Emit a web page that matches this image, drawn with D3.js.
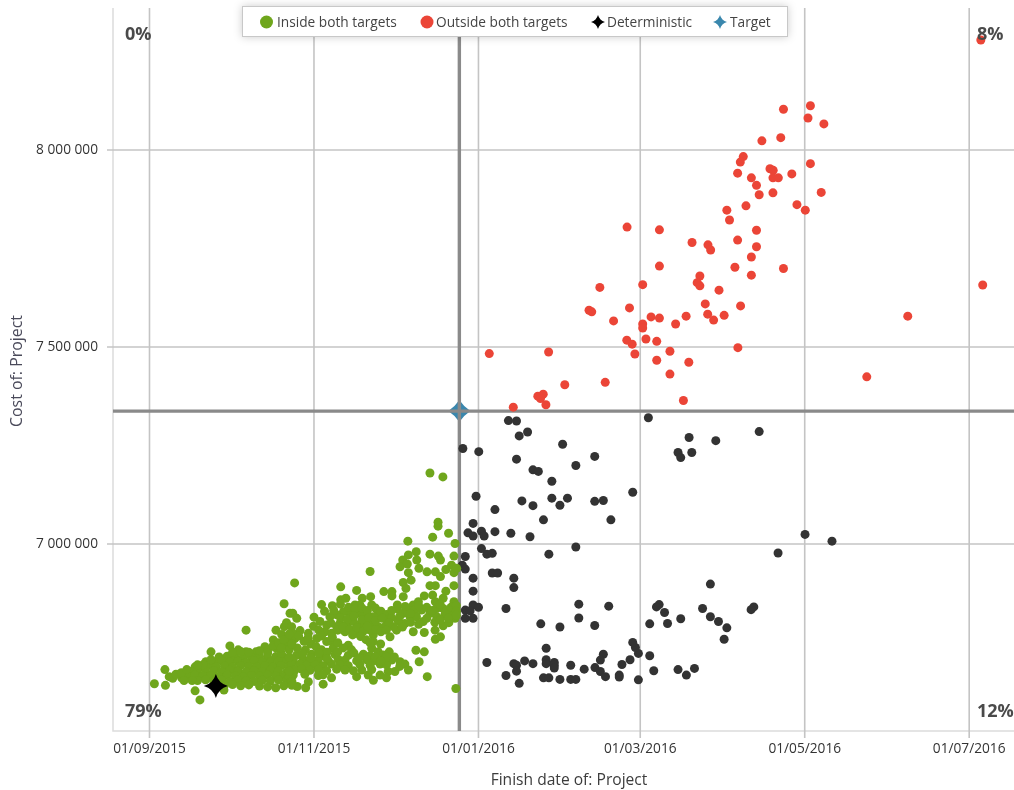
<!DOCTYPE html>
<html>
<head>
<meta charset="utf-8">
<script src="https://cdn.jsdelivr.net/npm/d3@7"></script>
<style>
  html, body { margin: 0; padding: 0; background: #fff; overflow: hidden; }
  svg { display: block; font-family: "Open Sans", "Noto Sans", sans-serif; filter: blur(0.35px); }
</style>
</head>
<body>
<script>
// all points are [days after 01/09/2015, cost in thousands]
var insidePoints = [
  [2.0,6644],[6.1,6640],[5.9,6680],[7.5,6662],[8.8,6658],[12.1,6659],[17.1,6626],[18.9,6603],[23.0,6725],[30.0,6740],
  [36.0,6780],[50.1,6847],[27.8,6628],[15.2,6670],[17.1,6687],[21.1,6700],[47.1,6780],[49.2,6769],[50.2,6789],[51.0,6799],
  [46.1,6755],[43.0,6738],[33.1,6730],[36.0,6725],[39.7,6725],[52.3,6823],
  [26,6712],[29,6714],[32,6710],[35,6713],[38,6711],[41,6714],[44,6710],[47,6713],[50,6711],
  [24,6700],[27,6702],[30,6699],[33,6701],[36,6698],[39,6702],[42,6700],[45,6698],[48,6701],[51,6703],
  [19,6688],[22,6690],[25,6687],[28,6689],[31,6686],[34,6690],[37,6688],[40,6686],[43,6689],[46,6687],[49,6690],[52,6688],
  [16,6676],[18,6678],[21,6675],[24,6677],[27,6674],[30,6678],[33,6676],[36,6674],[39,6677],[42,6675],[45,6678],[48,6676],[51,6674],
  [14,6664],[17,6666],[20,6663],[23,6665],[26,6662],[29,6666],[32,6664],[35,6662],[38,6665],[41,6663],[44,6666],[47,6664],[50,6662],
  [18,6652],[21,6654],[24,6651],[27,6653],[30,6650],[33,6654],[36,6652],[39,6650],[42,6653],[45,6651],[48,6654],[51,6652],
  [28,6640],[31,6642],[34,6639],[37,6641],[41,6638],[44,6636],[47,6634],[50,6639],
  [47,6735],[50,6740],[52,6750],[49,6722],[52,6730],
  [104.2,7179],[109.0,7169],[107.2,7044],
  [107.2,7054],[111.1,7026],[105.2,7016],[96.0,7006],[113.5,7000],[99.1,6979],[96.2,6971],[94.1,6958],[93.1,6941],[95.8,6948],
  [99.3,6958],[100.1,6937],[96.2,6926],[97.2,6907],[104.2,6973],[107.3,6968],[108.1,6958],[113.1,6968],[103.1,6928],[106.2,6928],
  [108.1,6916],[110.1,6934],[112.2,6945],[113.1,6926],[114.1,6937],[82.0,6929],[54.0,6900],[71.1,6890],[77.0,6881],[94.3,6901],
  [95.3,6886],[94.3,6865],[87.1,6878],[90.1,6878],[90.1,6867],[104.2,6893],[106.2,6893],[113.1,6893],[110.1,6879],[105.2,6869],
  [106.2,6852],[102.1,6867],[109.1,6861],[113.1,6852],[71.1,6857],[73.0,6861],[79.1,6861],[82.2,6865],[64.0,6845],[65.1,6828],
  [76.4,6844],[78.2,6844],[82.6,6844],[92.1,6844],[92.1,6834],[98.0,6844],[99.9,6852],[96.2,6831],[98.6,6831],[101.1,6831],
  [96.8,6814],[99.2,6814],[101.7,6802],[104.2,6823],[106.7,6835],[109.1,6835],[111.6,6831],[106.7,6814],[109.7,6818],[112.8,6823],
  [113.5,6810],[109.1,6791],[111.2,6799],[106.1,6780],[102.1,6774],[106.2,6757],[108.1,6763],[98.0,6776],[94.9,6797],[92.5,6802],
  [91.8,6780],[89.4,6763],[94.3,6823],[90.6,6789],[88.1,6806],[87.5,6789],[85.0,6823],[83.2,6814],[80.7,6827],[78.9,6819],
  [77.0,6831],[74.5,6823],[72.1,6827],[69.6,6819],[67.1,6814],[61.2,6813],[70.8,6797],[73.3,6793],[75.8,6802],[78.2,6793],
  [80.7,6802],[83.2,6793],[85.0,6789],[72.7,6776],[77.0,6772],[83.2,6768],[82.0,6780],[65.9,6793],[63.4,6802],[65.3,6776],
  [67.7,6772],[69.6,6789],[62.2,6759],[59.1,6772],[56.0,6779],[53.3,6823],[54.8,6810],[52.9,6789],[54.1,6759],[65.9,6751],
  [67.7,6751],[68.3,6734],[73.9,6742],[75.1,6730],[83.2,6751],[85.9,6745],[82.6,6734],[85.0,6725],[89.1,6725],[99.0,6729],
  [102.1,6725],[100.2,6700],[103.2,6662],[113.8,6632],[93.1,6700],[94.9,6694],[96.2,6679],[91.2,6675],[88.7,6675],[88.1,6659],
  [85.7,6666],[83.2,6653],[81.3,6666],[78.9,6679],[77.0,6662],[67.7,6659],[64.6,6643],[59.1,6649],[58.1,6634],[55.0,6637],
  [54.8,6717],[60.3,6719],[64.6,6715],[69.0,6718],[73.9,6716],[79.5,6719],[82.0,6715],[86.9,6717],
  [53.5,6704],[57.2,6706],[59.7,6703],[62.8,6705],[66.5,6702],[70.2,6706],[72.7,6704],[77.0,6702],[80.7,6705],[83.8,6703],[87.5,6706],[90.0,6704],
  [52.9,6692],[56.0,6694],[58.5,6691],[61.5,6693],[64.6,6690],[67.7,6694],[70.8,6692],[73.9,6690],[78.2,6693],[82.0,6691],[85.7,6694],[88.1,6692],
  [54.1,6679],[56.6,6681],[59.7,6678],[62.8,6680],[65.9,6677],[69.6,6681],[72.7,6679],[75.8,6677],[82.6,6680],
  [53.5,6666],[57.8,6668],[62.8,6665],[64.6,6667],
  [68,6842],[71,6846],[74,6838],[76.5,6834],[79,6836],[81,6830],[84,6836],[86,6828],[88,6820],[90,6812],
  [68.5,6830],[71,6812],[73.5,6808],[76,6816],[79,6806],[81.5,6812],[84,6804],[86.5,6810],[89,6798],
  [67.5,6798],[70,6780],[72,6788],[74.5,6782],[77,6786],[79.5,6778],[81,6790],[84,6782],[86,6776],[88,6780],[75.5,6768],[78.5,6764],[80.5,6756],[82,6748],
  [53,6775],[55.5,6765],[57.5,6752],[60,6745],[62,6738],[64,6730],[66,6724],[58,6730],[55,6735],[53,6745],[60,6710],[63,6722],[66,6708],[57,6720],
  [61,6790],[63,6780],[64,6765],[59,6760],[68,6762],[70,6748],[72,6735],[70,6725],[76,6722],[78,6710],[84,6712],[88,6712],[91,6712],[93,6688],[86,6702],
  [90,6830],[93,6815],[95,6840],[97,6822],[100,6842],[103,6838],[105,6830],[108,6845],[110,6825],[112,6838],[114,6842],[114,6828],[114,6818],[103,6810],
  [106,6800],[108,6806],[100,6795],[97,6800],[94,6788],[111,6810],
  [31,6724],[34,6726],[37,6724],[41,6728],[44,6726],[46,6740],[48,6748],[50,6756],[52,6770],[49,6735],[44,6722],[52,6712],[52,6662],[52,6676],[53,6650],[53,6640],
  [23,6705],[20,6692],[18,6692],[10,6668],[12,6672],[14,6680],[16,6652],[13,6652]
];
var outsidePoints = [
  [308.5,8278],[309.2,7656],[281.4,7577],[266.2,7423],
  [177.3,7803],[189.3,7796],[189.3,7704],[183.1,7657],[167.2,7650],[206.3,7608],[219.4,7603],[178.2,7598],[163.2,7592],[164.2,7588],
  [172.3,7565],[207.2,7582],[209.4,7567],[213.3,7579],[199.2,7577],[195.3,7557],[186.2,7575],[189.3,7572],[183.1,7557],[183.1,7547],
  [177.2,7516],[179.2,7506],[184.3,7519],[188.3,7513],[180.2,7481],[193.2,7488],[218.4,7497],[126.2,7482],[148.2,7486],[188.3,7465],
  [200.2,7460],[193.2,7430],[154.2,7403],[169.2,7409],[198.2,7363],[144.2,7374],[146.2,7379],[145.2,7368],[147.2,7352],[135.1,7346],
  [235.3,8102],[245.3,8111],[244.4,8080],[250.3,8065],[234.3,8030],[227.3,8022],[220.4,7982],[219.3,7968],[218.3,7940],[223.4,7928],
  [225.3,7909],[226.3,7885],[230.3,7951],[231.5,7947],[231.4,7928],[233.4,7928],[238.4,7938],[245.3,7964],[231.4,7890],[249.3,7891],
  [240.3,7860],[243.4,7846],[221.4,7857],[214.3,7846],[215.3,7821],[225.3,7795],[218.3,7770],[225.3,7753],[223.4,7727],[201.4,7764],
  [207.3,7758],[208.3,7745],[217.3,7701],[223.4,7681],[235.3,7698],[204.3,7679],[203.3,7662],[204.3,7654],[211.4,7643]
];
var otherPoints = [
  [133.3,7312],[136.3,7311],[137.3,7273],[140.4,7283],[153.4,7252],[116.4,7241],[122.3,7233],[136.3,7214],[165.3,7221],[158.3,7198],
  [142.4,7187],[144.4,7183],[149.4,7158],[121.3,7120],[138.3,7108],[142.4,7096],[149.4,7115],[152.4,7097],[155.2,7115],[165.3,7107],
  [168.5,7109],[179.4,7130],[128.3,7086],[146.3,7060],[171.3,7060],[120.2,7051],[118.3,7027],[120.2,7019],[123.3,7031],[124.3,7019],
  [128.3,7030],[134.2,7026],[141.3,7017],[123.3,6987],[125.3,6973],[127.3,6975],[148.3,6973],[158.3,6991],[117.3,6967],[116.2,6945],
  [117.3,6935],[127.3,6925],[129.3,6925],[120.2,6912],[135.3,6912],[135.3,6888],[120.2,6879],[159.4,6846],[170.5,6841],[120.2,6844],
  [122.2,6838],[132.4,6835],[117.3,6831],[119.1,6829],[117.3,6810],[120.2,6810],[159.4,6811],[145.3,6796],[152.4,6788],[165.3,6792],
  [185.7,6796],[147.3,6734],[125.3,6698],[135.3,6695],[136.3,6691],[139.3,6702],[142.4,6695],[147.3,6705],[147.3,6695],[150.3,6698],
  [150.3,6691],[150.3,6684],[156.4,6691],[161.4,6681],[168.5,6719],[167.4,6704],[165.4,6685],[167.4,6675],[169.3,6662],[174.4,6666],
  [174.4,6661],[175.4,6693],[178.4,6705],[181.5,6721],[180.4,6736],[179.4,6749],[185.7,6715],[132.4,6665],[136.3,6676],[137.3,6645],
  [146.3,6659],[148.3,6659],[152.4,6655],[156.4,6655],[158.3,6655],[181.5,6654],
  [185.2,7319],[200.3,7269],[210.2,7261],[226.3,7284],[196.2,7231],[197.2,7218],[201.3,7231],[243.3,7023],[253.3,7006],[233.3,6976],
  [208.2,6897],[205.3,6835],[208.2,6814],[211.2,6802],[214.3,6786],[213.3,6757],[189.2,6845],[188.2,6839],[191.2,6825],[192.3,6797],
  [197.2,6809],[224.3,6839],[223.3,6832],[187.2,6677],[196.2,6680],[199.3,6666],[202.3,6683]
];
var deterministicPoint = [24.8,6638];
var targetPoint = [115.1,7336];

var yTicks = [7000, 7500, 8000];
var xTickDates = ["2015-09-01","2015-11-01","2016-01-01","2016-03-01","2016-05-01","2016-07-01"];
var cornerLabels = ["0%", "8%", "79%", "12%"];
var legendLabels = ["Inside both targets", "Outside both targets", "Deterministic", "Target"];

var width = 1014, height = 790;
var left = 113, top_ = 8, right = 1014, bottom = 731;

var green = "#6fa61c", red = "#eb4537", dark = "#333333", blue = "#3a87ad";
var gridColour = "#c4c4c4";

var svg = d3.select("body").append("svg")
  .attr("width", width)
  .attr("height", height);

var startDate = new Date(Date.UTC(2015, 8, 1));
function toDate(days) { return new Date(startDate.getTime() + days*86400000); }

// 01/09/2015 sits at 149, 01/07/2016 at 969
var x = d3.scaleUtc()
  .domain([toDate(-13.35), toDate(320.8)])
  .range([left, right]);

// 8 000 000 sits at 149.5, 7 000 000 at 543.5
var y = d3.scaleLinear()
  .domain([6524.1, 8359.1])
  .range([bottom, top_]);

// frame
svg.append("path")
  .attr("d", "M" + left + "," + top_ + "V" + bottom + "H" + right)
  .attr("fill", "none")
  .attr("stroke", "#dcdcdc")
  .attr("stroke-width", 1.5);

// x axis + grid
var xAxis = d3.axisBottom(x)
  .tickValues(xTickDates.map(function(d){ return new Date(d + "T00:00:00Z"); }))
  .tickFormat(d3.utcFormat("%d/%m/%Y"))
  .tickSize(bottom - top_ + 7)
  .tickPadding(5);

var gx = svg.append("g").attr("transform", "translate(0," + top_ + ")").call(xAxis);
gx.select(".domain").remove();
gx.selectAll(".tick line").attr("stroke", gridColour).attr("stroke-width", 1.6);
gx.selectAll(".tick text").attr("fill", "#333").attr("font-size", 13.7).attr("font-family", "Open Sans");

// y axis + grid
var yAxis = d3.axisLeft(y)
  .tickValues(yTicks)
  .tickFormat(function(d){ return d3.format(",")(d*1000).replace(/,/g, " "); })
  .tickSize(right - left + 6)
  .tickPadding(9);

var gy = svg.append("g").attr("transform", "translate(" + right + ",0)").call(yAxis);
gy.select(".domain").remove();
gy.selectAll(".tick line").attr("stroke", gridColour).attr("stroke-width", 1.6);
gy.selectAll(".tick text").attr("fill", "#333").attr("font-size", 13.7).attr("font-family", "Open Sans");

// axis titles
svg.append("text")
  .attr("x", 569).attr("y", 785)
  .attr("text-anchor", "middle")
  .attr("fill", "#3c3c3c")
  .attr("font-size", 15.6)
  .text("Finish date of: Project");

svg.append("text")
  .attr("transform", "translate(22,371) rotate(-90)")
  .attr("text-anchor", "middle")
  .attr("fill", "#4a4a5a")
  .attr("font-size", 15.9)
  .text("Cost of: Project");

// four pointed star, same shape in chart and legend
function star(r, fat) {
  var k = r*(fat || 0.22);
  return "M0," + (-r) + "Q" + k + "," + (-k) + " " + r + ",0Q" + k + "," + k + " 0," + r +
         "Q" + (-k) + "," + k + " " + (-r) + ",0Q" + (-k) + "," + (-k) + " 0," + (-r) + "Z";
}

// target star goes under its lines
svg.append("path")
  .attr("d", star(11, 0.4))
  .attr("transform", "translate(" + x(toDate(targetPoint[0])) + "," + y(targetPoint[1]) + ")")
  .attr("fill", blue);

// target lines
svg.append("line")
  .attr("x1", x(toDate(targetPoint[0]))).attr("x2", x(toDate(targetPoint[0])))
  .attr("y1", top_).attr("y2", bottom)
  .attr("stroke", "#8a8a8a").attr("stroke-width", 3.4);
svg.append("line")
  .attr("x1", left).attr("x2", right)
  .attr("y1", y(targetPoint[1])).attr("y2", y(targetPoint[1]))
  .attr("stroke", "#8a8a8a").attr("stroke-width", 3.4);

function drawDots(data, colour) {
  svg.append("g").selectAll("circle")
    .data(data)
    .enter()
    .append("circle")
    .attr("cx", function(d){ return x(toDate(d[0])); })
    .attr("cy", function(d){ return y(d[1]); })
    .attr("r", 4.5)
    .attr("fill", colour);
}
drawDots(otherPoints, dark);
drawDots(insidePoints, green);
drawDots(outsidePoints, red);

svg.append("path")
  .attr("d", star(12))
  .attr("transform", "translate(" + x(toDate(deterministicPoint[0])) + "," + y(deterministicPoint[1]) + ")")
  .attr("fill", "#000");

// percentages in the four corners
var cornerPos = [[125,40],[977,40],[125,717],[977,717]];
svg.append("g").selectAll("text")
  .data(cornerLabels)
  .enter()
  .append("text")
  .attr("x", function(d,i){ return cornerPos[i][0]; })
  .attr("y", function(d,i){ return cornerPos[i][1]; })
  .attr("fill", "#4a4a4a")
  .attr("font-size", 18)
  .attr("font-weight", 700)
  .text(function(d){ return d; });

// legend
var legend = svg.append("g");
legend.append("rect")
  .attr("x", 242.5).attr("y", 6.5).attr("width", 545).attr("height", 30)
  .attr("fill", "#fff")
  .attr("stroke", "#c8c8c8")
  .style("filter", "drop-shadow(0 0 4px rgba(0,0,0,0.2))");

var legendKeys = [
  {x: 266.5, t: 277, type: "dot", c: green},
  {x: 427, t: 436, type: "dot", c: red},
  {x: 598, t: 607, type: "star", c: "#000"},
  {x: 720, t: 730, type: "star", c: blue}
];

legendKeys.forEach(function(k, i){
  if (k.type == "dot") {
    legend.append("circle").attr("cx", k.x).attr("cy", 22).attr("r", 6.5).attr("fill", k.c);
  } else {
    legend.append("path").attr("d", star(7)).attr("transform", "translate(" + k.x + ",22)").attr("fill", k.c);
  }
  legend.append("text")
    .attr("x", k.t).attr("y", 27)
    .attr("fill", "#444")
    .attr("font-size", 13.7)
    .text(legendLabels[i]);
});
</script>
</body>
</html>
